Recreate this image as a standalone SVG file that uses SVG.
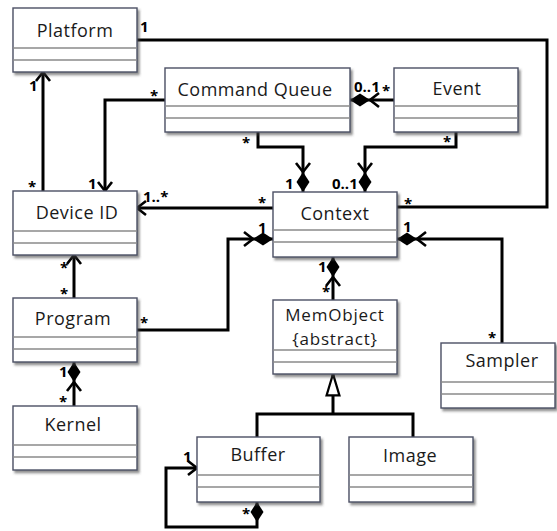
<svg xmlns="http://www.w3.org/2000/svg" width="557" height="531" viewBox="0 0 557 531">
<style>
.box{fill:#fff;stroke:#4b5064;stroke-width:1.4;filter:url(#sh)}
.div{stroke:#8a8a8a;stroke-width:1.3}
.t{font-family:"Open Sans","DejaVu Sans",sans-serif;font-size:18px;letter-spacing:0.5px;fill:#1a1a1a;text-anchor:middle}
.m{font-size:17px;letter-spacing:0.8px}
.c{fill:none;stroke:#000;stroke-width:3;stroke-linejoin:miter}
.l{font-family:"Open Sans","DejaVu Sans",sans-serif;font-size:15px;font-weight:bold;fill:#000}
</style>
<defs>
<filter id="sh" x="-10%" y="-10%" width="130%" height="130%"><feDropShadow dx="2" dy="2.5" stdDeviation="1.2" flood-color="#444" flood-opacity="0.6"/></filter>
<marker id="arr" markerUnits="userSpaceOnUse" markerWidth="30" markerHeight="30" viewBox="-15 -15 30 30" refX="0" refY="0" orient="auto" overflow="visible"><path d="M-9,-7 L0,0 L-9,7" fill="none" stroke="#000" stroke-width="2.6"/></marker>
<marker id="comp" markerUnits="userSpaceOnUse" markerWidth="40" markerHeight="30" viewBox="-35 -15 40 30" refX="0" refY="0" orient="auto" overflow="visible"><path d="M0,0 L-10,-6.5 L-20,0 L-10,6.5Z" fill="#000"/><path d="M-29,-7 L-20,0 L-29,7" fill="none" stroke="#000" stroke-width="2.6"/></marker>
<marker id="dia" markerUnits="userSpaceOnUse" markerWidth="30" markerHeight="30" viewBox="-25 -15 30 30" refX="0" refY="0" orient="auto-start-reverse" overflow="visible"><path d="M0,0 L-10,-6.5 L-20,0 L-10,6.5Z" fill="#000"/></marker>
<marker id="gen" markerUnits="userSpaceOnUse" markerWidth="30" markerHeight="30" viewBox="-30 -15 35 30" refX="0" refY="0" orient="auto" overflow="visible"><path d="M0,0 L-25,-7.5 L-25,7.5Z" fill="#fff" stroke="#000" stroke-width="2.6"/></marker>
</defs>

<g id="connectors">
<path class="c" d="M137,40 L547,40 L547,207 L397,207"/>
<path class="c" d="M43,191 L43,72" marker-end="url(#arr)"/>
<path class="c" d="M165,100 L105,100 L105,191" marker-end="url(#arr)"/>
<path class="c" d="M258,132 L258,147 L303,147 L303,192" marker-end="url(#comp)"/>
<path class="c" d="M456,132 L456,147 L365,147 L365,192" marker-end="url(#comp)"/>
<path class="c" d="M394,100 L350,100" marker-end="url(#comp)"/>
<path class="c" d="M273,208 L137,208" marker-end="url(#arr)"/>
<path class="c" d="M137,330 L228,330 L228,239 L273,239" marker-end="url(#comp)"/>
<path class="c" d="M74,298 L74,255" marker-end="url(#arr)"/>
<path class="c" d="M333,300 L333,257" marker-end="url(#comp)"/>
<path class="c" d="M502,343 L502,239 L397,239" marker-end="url(#comp)"/>
<path class="c" d="M74,406 L74,362" marker-end="url(#comp)"/>
<path class="c" d="M257,437 L257,414 L413,414 L413,437"/>
<path class="c" d="M333,414 L333,374" marker-end="url(#gen)"/>
<path class="c" d="M257,502 L257,527 L166,527 L166,468 L197,468" marker-start="url(#dia)" marker-end="url(#arr)"/>
<text class="l" x="140" y="32">1</text>
<text class="l" x="404" y="209">*</text>
<text class="l" x="29" y="91">1</text>
<text class="l" x="28" y="192">*</text>
<text class="l" x="150" y="101">*</text>
<text class="l" x="88" y="189">1</text>
<text class="l" x="242" y="148">*</text>
<text class="l" x="285" y="189">1</text>
<text class="l" x="443" y="147">*</text>
<text class="l" x="332" y="189">0..1</text>
<text class="l" x="354" y="92">0..1</text>
<text class="l" x="382" y="96">*</text>
<text class="l" x="143" y="202">1..*</text>
<text class="l" x="258" y="208">*</text>
<text class="l" x="140" y="328">*</text>
<text class="l" x="258" y="233">1</text>
<text class="l" x="60" y="273">*</text>
<text class="l" x="60" y="299">*</text>
<text class="l" x="318" y="272">1</text>
<text class="l" x="322" y="297">*</text>
<text class="l" x="403" y="232">1</text>
<text class="l" x="488" y="343">*</text>
<text class="l" x="59" y="377">1</text>
<text class="l" x="59" y="407">*</text>
<text class="l" x="183" y="462">1</text>
<text class="l" x="242" y="519">*</text>
</g>

<g id="platform"><rect class="box" x="13" y="8" width="124" height="64"/><line class="div" x1="13" y1="48" x2="137" y2="48"/><line class="div" x1="13" y1="60" x2="137" y2="60"/><text class="t" x="75" y="37">Platform</text></g>
<g id="command-queue"><rect class="box" x="165" y="68" width="185" height="64"/><line class="div" x1="165" y1="106" x2="350" y2="106"/><line class="div" x1="165" y1="118" x2="350" y2="118"/><text class="t" x="255" y="96">Command Queue</text></g>
<g id="event"><rect class="box" x="394" y="68" width="124" height="64"/><line class="div" x1="394" y1="106" x2="518" y2="106"/><line class="div" x1="394" y1="118" x2="518" y2="118"/><text class="t" x="457" y="95">Event</text></g>
<g id="device-id"><rect class="box" x="13" y="191" width="124" height="64"/><line class="div" x1="13" y1="231" x2="137" y2="231"/><line class="div" x1="13" y1="243" x2="137" y2="243"/><text class="t" x="77" y="219">Device ID</text></g>
<g id="context"><rect class="box" x="273" y="192" width="124" height="65"/><line class="div" x1="273" y1="230" x2="397" y2="230"/><line class="div" x1="273" y1="242" x2="397" y2="242"/><text class="t" x="335" y="220">Context</text></g>
<g id="program"><rect class="box" x="13" y="298" width="124" height="64"/><line class="div" x1="13" y1="337" x2="137" y2="337"/><line class="div" x1="13" y1="349" x2="137" y2="349"/><text class="t" x="73" y="325">Program</text></g>
<g id="memobject"><rect class="box" x="273" y="300" width="124" height="74"/><line class="div" x1="273" y1="350" x2="397" y2="350"/><line class="div" x1="273" y1="362" x2="397" y2="362"/><text class="t m" x="335" y="321">MemObject</text><text class="t m" x="335" y="345">{abstract}</text></g>
<g id="sampler"><rect class="box" x="441" y="343" width="114" height="65"/><line class="div" x1="441" y1="382" x2="555" y2="382"/><line class="div" x1="441" y1="394" x2="555" y2="394"/><text class="t" x="502" y="367">Sampler</text></g>
<g id="kernel"><rect class="box" x="13" y="406" width="124" height="64"/><line class="div" x1="13" y1="445" x2="137" y2="445"/><line class="div" x1="13" y1="457" x2="137" y2="457"/><text class="t" x="73" y="431">Kernel</text></g>
<g id="buffer"><rect class="box" x="197" y="437" width="123" height="65"/><line class="div" x1="197" y1="475" x2="320" y2="475"/><line class="div" x1="197" y1="487" x2="320" y2="487"/><text class="t" x="258" y="461">Buffer</text></g>
<g id="image"><rect class="box" x="349" y="437" width="124" height="65"/><line class="div" x1="349" y1="475" x2="473" y2="475"/><line class="div" x1="349" y1="487" x2="473" y2="487"/><text class="t" x="410" y="462">Image</text></g>
</svg>
